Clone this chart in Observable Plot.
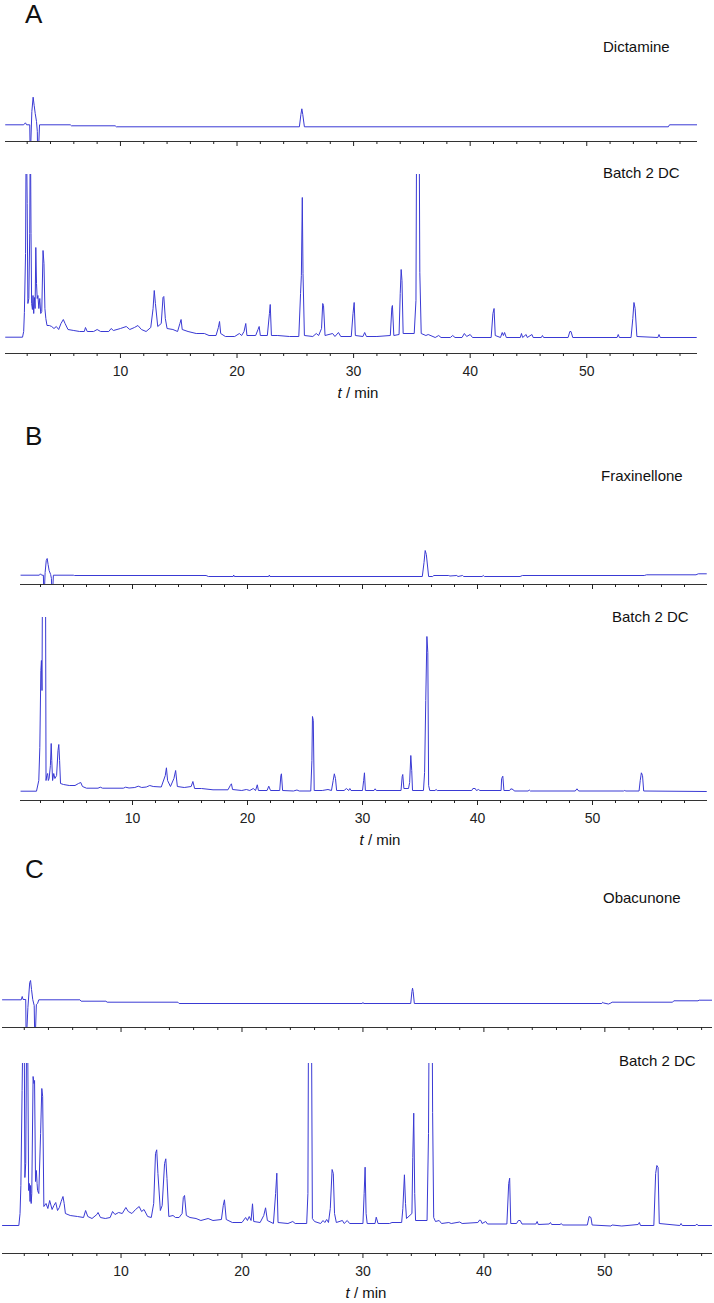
<!DOCTYPE html>
<html><head><meta charset="utf-8">
<script src="https://cdn.jsdelivr.net/npm/d3@7"></script>
<script src="https://cdn.jsdelivr.net/npm/@observablehq/plot@0.6"></script>
<style>
body{margin:0;background:#fff;}
#root{position:relative;width:714px;height:1303px;overflow:hidden;font-family:"Liberation Sans",Arial,sans-serif;color:#111;}
.lbl{position:absolute;white-space:nowrap;}
.plot{position:absolute;left:0;}
</style></head><body><div id="root"></div>
<script>
// ---------- tick definitions (t / min) ----------
const majorTicks = [10, 20, 30, 40, 50];
const minorTicks = [2,4,6,8,12,14,16,18,22,24,26,28,32,34,36,38,42,44,46,48,52,54,56,58];

// ---------- panel texts ----------
const panelLetters = ["A", "B", "C"];
const standardNames = ["Dictamine", "Fraxinellone", "Obacunone"];
const sampleName = "Batch 2 DC";

// ---------- chromatogram vertices [t (min), signal (arb. units, 0 = axis)] ----------
const dictamineStd = [[0.15,16.7],[1.7,16.7],[1.85,18.7],[1.95,16.7],[2.22,16.7],[2.25,-6],[2.3,-6],[2.4,30],[2.51,44.3],[2.6,36],[2.69,28],[2.8,20],[2.87,10],[2.89,-6],[2.98,-6],[3.06,16.7],[5.7,16.7],[5.8,15.7],[9.55,15.7],[9.65,14.7],[25.35,14.7],[25.48,27],[25.56,32.7],[25.64,27],[25.78,14.7],[57.0,14.7],[57.1,16.7],[59.5,16.7]];

const batchA = [[0.15,16.3],[1.6,16.3],[1.7,22],[1.76,41],[1.86,100],[1.92,240],[2.0,150],[2.06,50],[2.14,55],[2.22,120],[2.27,240],[2.33,120],[2.38,50],[2.45,44],[2.5,58],[2.56,40],[2.62,56],[2.68,45],[2.74,106],[2.8,70],[2.86,55],[2.92,58],[3.0,45],[3.08,55],[3.16,40],[3.25,42],[3.36,103],[3.44,90],[3.52,45],[3.6,35],[3.7,28],[3.9,28],[4.1,27],[4.3,25],[4.5,27],[4.7,24],[4.9,30],[5.1,34],[5.25,30],[5.5,24],[6.0,23],[6.5,22],[6.9,22],[7.0,26],[7.15,22],[7.7,22],[8.0,24],[8.3,22],[9.0,22],[9.2,25],[9.4,23],[10.0,25],[10.5,27],[10.8,24],[11.2,26],[11.5,28],[11.8,24],[12.2,22],[12.6,26],[12.8,45],[12.9,63],[13.0,50],[13.2,27],[13.5,30],[13.65,56],[13.72,57],[13.85,35],[14.0,25],[14.5,24],[14.9,22],[15.1,30],[15.2,34],[15.3,24],[15.8,22],[16.5,20],[17.2,20],[17.6,18],[18.2,18],[18.4,26],[18.5,32],[18.6,20],[19.0,17],[19.8,17],[20.2,20],[20.4,18],[20.6,22],[20.75,30],[20.85,18],[21.6,18],[21.8,24],[21.9,27],[22.0,18],[22.6,18],[22.78,40],[22.85,49],[22.95,18],[23.5,18],[24.5,17],[25.3,17],[25.45,60],[25.52,78],[25.6,156],[25.66,80],[25.78,18],[26.5,17],[26.8,20],[27.0,18],[27.25,25],[27.35,50],[27.42,48],[27.55,18],[28.2,20],[28.4,17],[28.7,21],[28.9,17],[29.8,17],[29.95,40],[30.05,51],[30.15,18],[30.8,17],[30.95,21],[31.1,17],[32.0,17],[33.15,18],[33.28,46],[33.33,48],[33.45,18],[33.9,19],[34.0,60],[34.08,84],[34.15,73],[34.25,20],[35.2,20],[35.35,53],[35.43,300],[35.6,300],[35.68,81],[35.8,20],[36.2,18],[36.4,19],[37.0,16],[37.3,18],[37.5,16],[38.3,16],[38.5,18],[38.7,16],[39.3,16],[39.5,20],[39.7,17],[40.0,19],[40.2,16],[41.8,16],[41.95,40],[42.05,45],[42.15,18],[42.6,16],[42.75,21],[42.85,18],[42.95,21],[43.1,16],[44.3,16],[44.4,20],[44.5,16],[44.8,19],[44.9,16],[45.3,19],[45.4,16],[46.1,16],[46.2,18],[46.3,16],[48.4,16],[48.55,22],[48.65,22],[48.8,16],[52.6,16],[52.7,19],[52.8,16],[53.8,16],[53.95,35],[54.05,51],[54.15,45],[54.3,17],[56.1,16],[56.2,19],[56.3,16],[59.4,16]];

const fraxinelloneStd = [[0.3,9.3],[1.9,9.3],[2.0,10.7],[2.1,9.3],[2.25,9.3],[2.28,-6],[2.34,-6],[2.4,12],[2.5,24],[2.58,26],[2.66,20],[2.75,14],[2.88,10],[2.95,6],[2.98,-6],[3.06,-6],[3.12,9.3],[4.85,9.3],[4.95,9],[16.4,9],[16.6,8],[18.75,8],[18.8,9.5],[18.85,8],[21.85,8],[21.9,9.5],[21.95,8],[35.2,8],[35.35,22],[35.45,34],[35.55,30],[35.75,8],[36.1,8],[36.2,9],[37.5,9],[37.6,8.5],[38.2,9],[38.3,8],[38.7,9],[38.8,8],[40.4,8],[40.5,9],[40.6,8],[43.7,8],[43.9,9],[54.5,9],[54.7,9.7],[59.0,9.7],[59.2,10.7],[59.9,10.7]];

const batchB = [[0.3,9.3],[1.65,9.3],[1.85,20],[1.94,53],[2.03,130],[2.08,140],[2.13,110],[2.2,300],[2.42,300],[2.48,20],[2.55,25],[2.62,27],[2.68,20],[2.75,22],[2.86,35],[2.93,57],[2.98,40],[3.05,20],[3.15,27],[3.25,22],[3.4,25],[3.52,50],[3.59,56],[3.66,40],[3.74,17],[4.0,16],[4.5,15],[5.0,15],[5.3,17],[5.5,18],[5.65,14],[6.0,12.3],[7.0,12.3],[7.2,13.3],[7.4,12.3],[9.2,12.3],[9.4,13.3],[9.7,12.5],[10.2,13],[10.5,14.3],[10.8,13],[11.2,13.5],[11.5,15],[11.8,14],[12.5,13.5],[12.85,25],[12.95,32.7],[13.05,20],[13.3,14],[13.6,22],[13.75,30],[13.9,14],[14.5,13],[15.1,14],[15.25,19],[15.4,12],[16.0,12],[17.0,10.7],[18.3,10.7],[18.5,15],[18.6,16.7],[18.7,11],[19.5,10],[19.9,11],[20.2,10],[20.5,12],[20.7,10],[20.85,15.7],[20.95,10],[21.7,10],[21.85,14.3],[22.0,10],[22.8,10],[22.9,25],[22.95,26.7],[23.05,10],[24.0,9.5],[24.3,10.5],[24.5,9.5],[25.5,9.5],[25.6,40],[25.65,84],[25.72,80],[25.8,10],[26.5,10],[27.0,11],[27.3,10],[27.45,20],[27.55,26.7],[27.65,22],[27.75,10],[28.4,10],[28.6,12],[28.8,10],[28.9,12],[29.0,10],[30.0,10],[30.1,20],[30.17,27.7],[30.25,10],[31.0,10],[31.1,11.7],[31.2,10],[33.35,10],[33.45,24],[33.5,26],[33.6,12],[34.0,12],[34.1,18],[34.2,45],[34.28,30],[34.35,10],[35.3,10],[35.4,28],[35.5,100],[35.6,164],[35.68,148],[35.75,15],[35.85,10],[36.3,10],[36.4,11],[36.5,10],[39.5,10],[39.6,12],[39.8,12],[39.9,10],[40.1,11],[40.2,10],[42.05,10],[42.1,22],[42.2,24.3],[42.3,10],[42.8,10],[42.9,11.7],[43.1,11],[43.2,9.5],[44.4,9.5],[44.5,10.5],[44.6,9.5],[48.5,9.5],[48.65,11.7],[48.8,9.5],[52.7,9.5],[52.8,10],[52.9,9.5],[54.05,9.5],[54.15,20],[54.25,27.7],[54.35,25],[54.45,9.5],[59.9,9]];

const obacunoneStd = [[0.2,27.7],[1.75,27.7],[1.83,31],[1.9,28],[2.12,28],[2.15,-6],[2.2,-6],[2.3,20],[2.45,45],[2.52,47],[2.6,38],[2.7,28],[2.82,22],[2.86,-6],[2.92,-6],[3.0,23],[3.1,24],[3.2,27.7],[6.6,27.7],[6.7,26.3],[8.75,26.3],[8.85,25.3],[14.7,25.3],[14.8,24],[29.95,24],[30.0,25],[30.05,24],[33.95,24],[34.05,36],[34.1,39.3],[34.15,36],[34.25,24],[49.75,24],[49.82,25.2],[49.9,24.5],[50.3,23.5],[50.5,24.5],[50.6,25.3],[55.6,25.3],[55.7,26.7],[57.7,26.7],[57.8,27.3],[58.9,27.3]];

const batchC = [[0.2,28],[1.55,28],[1.65,40],[1.72,68],[1.82,163],[1.97,300],[2.05,76],[2.12,90],[2.24,300],[2.36,63],[2.42,70],[2.48,52],[2.52,68],[2.57,50],[2.62,60],[2.73,177],[2.8,170],[2.85,173],[2.93,72],[3.0,83],[3.06,70],[3.1,63],[3.2,60],[3.35,120],[3.45,165],[3.52,157],[3.62,47],[3.8,50],[3.95,45],[4.1,53],[4.3,44],[4.45,48],[4.6,51],[4.75,43],[4.9,46],[5.05,52],[5.2,57],[5.3,50],[5.4,40],[5.8,38],[6.4,37],[6.9,36],[7.07,43],[7.25,37],[7.6,35],[8.0,39],[8.1,41],[8.3,36],[8.7,35],[9.1,36],[9.3,42],[9.5,39],[9.8,41],[10.1,40],[10.4,46],[10.6,42],[10.9,40],[11.2,44],[11.5,47],[11.7,42],[11.9,44],[12.2,37],[12.5,36],[12.7,50],[12.85,100],[12.95,103.7],[13.05,80],[13.25,43],[13.4,48],[13.6,90],[13.7,94.7],[13.8,75],[13.95,37],[14.3,38],[14.5,36],[14.8,36],[15.05,40],[15.15,56],[15.25,58],[15.4,38],[15.7,36],[16.2,35],[16.6,33],[17.2,35],[17.6,33],[18.3,34],[18.45,48],[18.55,53.7],[18.7,34],[19.2,31],[20.0,31],[20.3,36],[20.45,33],[20.6,37],[20.75,33],[20.87,49.7],[20.97,32],[21.5,31],[21.8,38],[21.95,45.7],[22.1,33],[22.6,30],[22.78,60],[22.88,80.3],[22.98,31],[23.8,30],[24.2,32],[24.4,30],[25.35,30],[25.45,60],[25.52,300],[25.72,300],[25.82,35],[26.0,32],[26.5,30],[26.7,33],[26.85,31],[27.0,34],[27.15,31],[27.3,45],[27.45,84],[27.55,80],[27.65,40],[27.8,31],[28.3,33],[28.45,30],[28.7,33],[28.9,30],[30.0,30],[30.1,60],[30.18,86.3],[30.26,40],[30.35,30],[31.0,30],[31.1,36.3],[31.25,30],[32.2,30],[32.4,31],[33.2,31],[33.3,45],[33.43,78.7],[33.52,50],[33.6,35],[34.05,40],[34.12,96],[34.2,140.3],[34.28,60],[34.35,33],[35.3,33],[35.42,120],[35.5,300],[35.7,300],[35.76,141],[35.85,36],[36.0,32],[36.3,33],[36.5,30],[37.1,31],[37.3,30],[38.0,31.5],[38.2,30],[39.5,31],[39.65,33.5],[39.75,33],[39.85,30],[40.15,32],[40.3,29.5],[41.9,29.5],[42.05,70],[42.13,75.3],[42.22,30],[42.7,30],[42.85,33],[43.0,33],[43.15,29.5],[44.3,29.5],[44.4,32],[44.5,29],[45.4,29.5],[45.5,31],[45.6,29],[46.3,29],[46.4,30],[46.5,28.5],[48.55,28.5],[48.7,37],[48.85,36],[48.95,28.5],[50.5,27.5],[50.6,28.5],[51.4,27.5],[52.75,29],[52.85,31],[52.95,28],[54.05,28],[54.2,80],[54.3,88],[54.4,86],[54.5,30],[56.2,28],[56.3,30],[56.4,28],[57.5,28],[57.6,29.5],[57.7,28],[58.9,28]];

// ---------- rendering ----------
const lineColor = "#3a3ad4";
const FONT = '"Liberation Sans", Arial, sans-serif';
const root = document.getElementById("root");

function addText(content, x, baseline, fs, anchor = "start", italicT = false) {
  const d = document.createElement("div");
  d.className = "lbl";
  d.style.fontSize = fs + "px";
  d.style.lineHeight = Math.round(fs * 1.15) + "px";
  d.style.top = (baseline - fs * (0.575 + 0.3465)) + "px";
  d.style.left = x + "px";
  if (anchor === "middle") d.style.transform = "translateX(-50%)";
  if (anchor === "end") d.style.transform = "translateX(-100%)";
  if (italicT) {
    const i = document.createElement("i"); i.textContent = "t";
    d.appendChild(i); d.appendChild(document.createTextNode(" / min"));
  } else d.textContent = content;
  root.appendChild(d);
}

function addPlot(data, cfg) {
  const mb = cfg.labels ? 32 : 10;
  const svg = Plot.plot({
    width: 714,
    height: cfg.ymax + mb,
    marginTop: 0, marginBottom: mb,
    marginLeft: cfg.ml, marginRight: cfg.mr,
    x: {domain: cfg.xDomain},
    y: {domain: [0, cfg.ymax], axis: null},
    style: {fontFamily: FONT, fontSize: "14px", color: "#222", background: "transparent", overflow: "visible"},
    marks: [
      Plot.line(data, {x: d => d[0], y: d => d[1], stroke: lineColor, strokeWidth: 1, clip: true}),
      Plot.ruleY([0], {stroke: "#333", strokeWidth: 1}),
      Plot.axisX({ticks: minorTicks, tickSize: 3, tickFormat: () => "", label: null}),
      Plot.axisX({ticks: majorTicks, tickSize: 5, tickPadding: 8, label: null,
                  tickFormat: cfg.labels ? (d => String(d)) : (() => "")})
    ]
  });
  const wrap = document.createElement("div");
  wrap.className = "plot";
  wrap.style.top = (cfg.axisY - cfg.ymax) + "px";
  wrap.appendChild(svg);
  root.appendChild(wrap);
}

const panels = [
  {std: dictamineStd, batch: batchA, xDomain: [0.14, 59.5], ml: 5, mr: 17,
   stdAxis: 141, stdMax: 55, batchAxis: 353, batchMax: 179,
   letterY: 23, nameX: 603, nameY: 52, batchLblX: 603, batchLblY: 178, tminX: 358},
  {std: fraxinelloneStd, batch: batchB, xDomain: [0.26, 60], ml: 20, mr: 7,
   stdAxis: 584, stdMax: 45, batchAxis: 800, batchMax: 183,
   letterY: 445, nameX: 601, nameY: 481, batchLblX: 612, batchLblY: 622, tminX: 380},
  {std: obacunoneStd, batch: batchC, xDomain: [0.2, 58.9], ml: 2, mr: 2,
   stdAxis: 1027, stdMax: 55, batchAxis: 1253, batchMax: 190,
   letterY: 878, nameX: 603, nameY: 903, batchLblX: 619, batchLblY: 1066, tminX: 366}
];

panels.forEach((p, i) => {
  addPlot(p.std, {xDomain: p.xDomain, ml: p.ml, mr: p.mr, axisY: p.stdAxis, ymax: p.stdMax, labels: false});
  addPlot(p.batch, {xDomain: p.xDomain, ml: p.ml, mr: p.mr, axisY: p.batchAxis, ymax: p.batchMax, labels: true});
  addText(panelLetters[i], 25, p.letterY, 26);
  addText(standardNames[i], p.nameX, p.nameY, 15);
  addText(sampleName, p.batchLblX, p.batchLblY, 15);
  addText("", p.tminX, p.batchAxis + 45, 15, "middle", true);
});
</script>
</body></html>
